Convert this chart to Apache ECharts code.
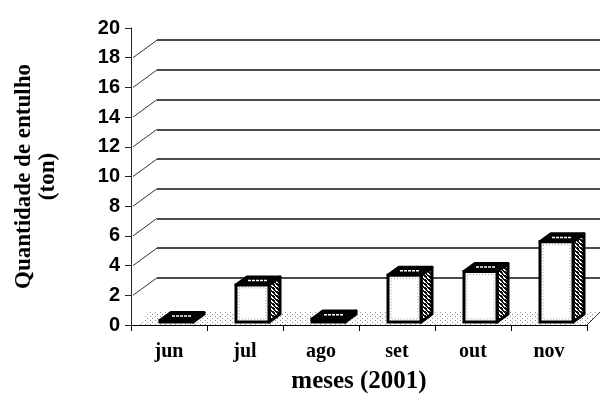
<!DOCTYPE html>
<html>
<head>
<meta charset="utf-8">
<script src="https://cdn.jsdelivr.net/npm/echarts@6/dist/echarts.min.js"></script>
<style>
  html, body { margin: 0; padding: 0; background: #fff; }
  #chart { width: 600px; height: 409px; }
</style>
</head>
<body>
<div id="chart"></div>
<script>
// Monthly construction debris (tons), 2001
const months = ['jun', 'jul', 'ago', 'set', 'out', 'nov'];
const tons = [0.1, 2.5, 0.2, 3.15, 3.4, 5.4];
// Value-axis levels that get a back-wall gridline and a corner connector
const wallLevels = [2, 4, 6, 8, 10, 12, 14, 16, 18];

// 3D look: box geometry (pixels)
const FACE_LEFT = -9, FACE_W = 33, DEPTH_X = 11, DEPTH_Y = -8, BAR_LIFT = 3;
const WALL_DX = 26, WALL_DY = -17.5;
const FLOOR_DX = 13, FLOOR_DY = -13;

function makePattern(w, h, draw) {
  const c = document.createElement('canvas');
  c.width = w; c.height = h;
  draw(c.getContext('2d'));
  return c;
}
const sideHatch = makePattern(4, 4, ctx => {
  ctx.fillStyle = '#fff'; ctx.fillRect(0, 0, 4, 4);
  ctx.fillStyle = '#111';
  ctx.fillRect(0, 0, 3, 1); ctx.fillRect(1, 1, 2, 1);
  ctx.fillRect(2, 2, 2, 1); ctx.fillRect(3, 3, 1, 1); ctx.fillRect(0, 3, 2, 1);
});
const floorDots = makePattern(5, 4, ctx => {
  ctx.fillStyle = '#fff'; ctx.fillRect(0, 0, 5, 4);
  ctx.fillStyle = '#8c8c8c';
  ctx.fillRect(0, 0, 1, 1); ctx.fillRect(2, 2, 1, 1);
});

const chart = echarts.init(document.getElementById('chart'), null, { renderer: 'canvas' });

const serif = 'Liberation Serif';
const sans = 'Liberation Sans';

const option = {
  animation: false,
  backgroundColor: '#fff',
  grid: [
    { left: 131, right: 13, top: 28, bottom: 84 },
    { left: 131 + WALL_DX, right: 0, top: 28 + WALL_DY, bottom: 84 - WALL_DY }
  ],
  xAxis: [
    {
      gridIndex: 0,
      type: 'category',
      data: months,
      axisLine: { show: true, lineStyle: { color: '#000', width: 1 } },
      axisTick: { show: true, length: 6, lineStyle: { color: '#000' } },
      axisLabel: { color: '#000', fontFamily: serif, fontWeight: 'bold', fontSize: 20, margin: 17 },
      name: 'meses (2001)',
      nameLocation: 'middle',
      nameGap: 44,
      nameTextStyle: { color: '#000', fontFamily: serif, fontWeight: 'bold', fontSize: 25 }
    },
    { gridIndex: 1, type: 'value', min: 0, max: 1, show: false }
  ],
  yAxis: [
    {
      gridIndex: 0,
      type: 'value',
      min: 0, max: 20, interval: 2,
      axisLine: { show: true, lineStyle: { color: '#222', width: 1 } },
      axisTick: { show: true, length: 6, lineStyle: { color: '#222' } },
      axisLabel: { color: '#000', fontFamily: sans, fontWeight: 'bold', fontSize: 20, margin: 11 },
      splitLine: { show: false },
      name: 'Quantidade de entulho\n(ton)',
      nameLocation: 'middle',
      nameRotate: 90,
      nameGap: 71,
      nameTextStyle: { color: '#000', fontFamily: serif, fontWeight: 'bold', fontSize: 23, lineHeight: 24, align: 'center' }
    },
    {
      gridIndex: 1,
      type: 'value',
      min: 0, max: 20, interval: 2,
      axisLine: { show: false }, axisTick: { show: false }, axisLabel: { show: false },
      splitLine: { show: true, showMinLine: false, showMaxLine: false, lineStyle: { color: '#111', width: 1.5 } }
    }
  ],
  series: [
    {
      // floor of the plot
      type: 'custom',
      xAxisIndex: 0, yAxisIndex: 0,
      data: [[0, 0]],
      z: 1,
      silent: true,
      renderItem(params, api) {
        const band = api.size([1, 0])[0];
        const a = api.coord([0, 0]);
        const b = api.coord([months.length - 1, 0]);
        const xl = a[0] - band / 2 + 6, xr = b[0] + band / 2, y = a[1];
        return {
          type: 'group',
          children: [
            {
              type: 'polygon',
              shape: { points: [[xl, y], [xr, y], [xr + FLOOR_DX, y + FLOOR_DY], [xl + FLOOR_DX, y + FLOOR_DY]] },
              style: { fill: { image: floorDots, repeat: 'repeat' }, stroke: null }
            },
            {
              type: 'line',
              shape: { x1: xr, y1: y, x2: xr + FLOOR_DX, y2: y + FLOOR_DY },
              style: { stroke: '#333', lineWidth: 1 }
            }
          ]
        };
      }
    },
    {
      // diagonal connectors from axis ticks to the back wall
      type: 'custom',
      xAxisIndex: 0, yAxisIndex: 0,
      data: wallLevels.map(v => [0, v]),
      z: 1,
      silent: true,
      renderItem(params, api) {
        const band = api.size([1, 0])[0];
        const p = api.coord([0, api.value(1)]);
        const x = p[0] - band / 2;
        return {
          type: 'line',
          shape: { x1: x + 2, y1: p[1], x2: x + WALL_DX, y2: p[1] + WALL_DY },
          style: { stroke: '#333', lineWidth: 1 }
        };
      }
    },
    {
      // 3D boxes
      type: 'custom',
      xAxisIndex: 0, yAxisIndex: 0,
      data: months.map((m, i) => [i, tons[i]]),
      z: 3,
      renderItem(params, api) {
        const c = api.coord([api.value(0), 0]);
        const t = api.coord([api.value(0), api.value(1)]);
        const x0 = c[0] + FACE_LEFT, x1 = x0 + FACE_W;
        const yb = c[1] - BAR_LIFT, yt = t[1] - BAR_LIFT;
        const h = yb - yt;
        const children = [
          {
            type: 'polygon',
            shape: { points: [[x1, yt], [x1 + DEPTH_X, yt + DEPTH_Y], [x1 + DEPTH_X, yb + DEPTH_Y], [x1, yb]] },
            style: { fill: { image: sideHatch, repeat: 'repeat' }, stroke: '#000', lineWidth: 3, lineJoin: 'round' }
          },
          {
            type: 'polygon',
            shape: { points: [[x0, yt], [x1, yt], [x1 + DEPTH_X, yt + DEPTH_Y], [x0 + DEPTH_X, yt + DEPTH_Y]] },
            style: { fill: '#000', stroke: '#000', lineWidth: 3, lineJoin: 'round' }
          },
          {
            type: 'line',
            shape: { x1: x0 + 12, y1: yt + DEPTH_Y * 0.55, x2: x1 - 2, y2: yt + DEPTH_Y * 0.55 },
            style: { stroke: '#fff', lineWidth: 1.5, lineDash: [3, 1] }
          },
          {
            type: 'rect',
            shape: { x: x0, y: yt, width: FACE_W, height: h },
            style: { fill: '#fff', stroke: '#000', lineWidth: 3 }
          }
        ];
        if (h > 10) {
          children.push({
            type: 'rect',
            shape: { x: x0 + 3, y: yt + 3, width: FACE_W - 6, height: h - 6 },
            style: { fill: null, stroke: '#9a9a9a', lineWidth: 1, lineDash: [1, 2] }
          });
        }
        return { type: 'group', children };
      }
    }
  ]
};

chart.setOption(option);
</script>
</body>
</html>
